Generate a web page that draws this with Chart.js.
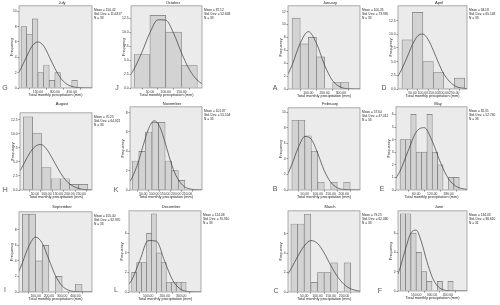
<!DOCTYPE html>
<html>
<head>
<meta charset="utf-8">
<script src="https://cdn.jsdelivr.net/npm/chart.js@4.4.0/dist/chart.umd.min.js"></script>
<style>
  html, body { margin: 0; padding: 0; background: #fff; }
  #page { position: relative; width: 500px; height: 305px; overflow: hidden; }
  canvas { position: absolute; }
  .txt { position: absolute; white-space: nowrap; font-family: Arial, "Liberation Sans", sans-serif; color: #222; transform-origin: 0 0; }
  .letter { position: absolute; width: 6px; text-align: center; font-family: Arial, "Liberation Sans", sans-serif; font-size: 7px; line-height: 8px; color: #555; }
</style>
</head>
<body>
<div id="page"></div>
<script>
// panels in page order: G J A D / H K B E / I L C F
const months = ['July', 'October', 'January', 'April', 'August', 'November', 'February', 'May', 'September', 'December', 'March', 'June'];
const letters = ['G', 'J', 'A', 'D', 'H', 'K', 'B', 'E', 'I', 'L', 'C', 'F'];

// frequency per bin (bins start at 0)
const julyCounts = [8, 7, 9, 2, 3, 1, 2, 0, 0, 1];
const octoberCounts = [6, 13, 10, 4];
const januaryCounts = [11, 7, 8, 5, 0, 1, 1];
const aprilCounts = [9, 14, 5, 3, 0, 2];
const augustCounts = [13, 10, 4, 2, 2, 1, 1];
const novemberCounts = [3, 4, 6, 7, 7, 3, 2, 1];
const februaryCounts = [9, 9, 7, 5, 1, 0, 1, 0, 1];
const mayCounts = [4, 4, 6, 3, 3, 6, 3, 2, 0, 1, 1];
const septemberCounts = [10, 10, 4, 6, 0, 2, 0, 0, 1];
const decemberCounts = [2, 3, 3, 6, 8, 4, 3, 1, 1, 1, 1];
const marchCounts = [7, 7, 8, 1, 2, 2, 3, 0, 3];
const juneCounts = [8, 8, 6, 4, 2, 1, 0, 1, 0, 1];

// fitted normal curve (x in mm, y in frequency)
const julyCurveX = [-18, 0, 50, 100, 150, 200, 250, 300, 350, 400, 450, 500, 550, 630];
const julyCurveY = [2.06, 2.58, 4.1, 5.5, 6.0, 5.5, 4.1, 2.58, 1.32, 0.57, 0.2, 0.06, 0.015, 0];
const octoberCurveX = [-10, 0, 25, 50, 75, 100, 125, 150, 175, 200, 215];
const octoberCurveY = [2.5, 3.4, 6.45, 9.9, 12.2, 12.15, 9.8, 6.3, 3.3, 1.4, 0.75];
const januaryCurveX = [-25, 0, 50, 100, 150, 200, 250, 300, 350, 418];
const januaryCurveY = [2.3, 3.7, 7.1, 8.9, 7.1, 3.7, 1.27, 0.28, 0.04, 0];
const aprilCurveX = [-19, 0, 25, 50, 75, 100, 125, 150, 175, 200, 250, 311];
const aprilCurveY = [2.35, 3.7, 5.85, 8.1, 9.7, 10.05, 9.05, 7.05, 4.75, 2.75, 0.63, 0.04];
const augustCurveX = [-15, 0, 25, 50, 75, 100, 125, 150, 175, 200, 250, 298];
const augustCurveY = [3.43, 4.5, 6.4, 7.7, 8.08, 7.3, 5.65, 3.8, 2.2, 1.1, 0.17, 0.02];
const novemberCurveX = [-10, 0, 25, 50, 75, 100, 125, 150, 175, 200, 250, 318];
const novemberCurveY = [0.9, 1.3, 2.7, 4.6, 6.35, 7.16, 6.57, 4.9, 2.96, 1.47, 0.19, 0];
const februaryCurveX = [-15, 0, 25, 50, 75, 100, 125, 150, 175, 200, 263];
const februaryCurveY = [2.1, 3.3, 5.5, 6.9, 6.55, 4.7, 2.5, 1.0, 0.3, 0.07, 0];
const mayCurveX = [-15, 0, 30, 60, 90, 120, 150, 180, 210, 249];
const mayCurveY = [0.94, 1.5, 3.1, 4.6, 4.95, 3.87, 2.2, 0.9, 0.27, 0.035];
const septemberCurveX = [-25, 0, 50, 100, 150, 200, 250, 300, 350, 400, 525];
const septemberCurveY = [2.65, 3.73, 5.93, 7.05, 6.28, 4.19, 2.09, 0.78, 0.22, 0.05, 0];
const decemberCurveX = [-16, 0, 50, 100, 150, 200, 250, 300, 350, 420];
const decemberCurveY = [0.8, 1.2, 3.23, 5.26, 5.2, 3.14, 1.16, 0.26, 0.036, 0];
const marchCurveX = [-11, 0, 25, 50, 75, 100, 125, 150, 175, 200, 225, 260];
const marchCurveY = [1.85, 2.36, 3.63, 4.74, 5.29, 5.0, 4.03, 2.73, 1.6, 0.79, 0.33, 0.07];
const juneCurveX = [-22, 0, 50, 100, 150, 200, 250, 300, 350, 400, 450, 500, 631];
const juneCurveY = [1.75, 2.47, 4.38, 6.0, 6.3, 5.07, 3.12, 1.48, 0.53, 0.15, 0.03, 0.005, 0];

// axes
const binWidth = [50, 50, 50, 50, 40, 30, 25, 20, 50, 30, 25, 50];
const xTickStep = [150, 50, 100, 50, 50, 50, 50, 60, 100, 100, 50, 150];
const xMin = [-18, -10, -25, -19, -15, -10, -15, -15, -25, -16, -11, -22];
const xMax = [630, 215, 418, 311, 298, 318, 263, 249, 525, 420, 260, 631];
const yMax = [10.7, 14.7, 12.9, 15.2, 13.7, 8.6, 10.6, 6.6, 10.3, 8.3, 8.35, 8.3];
const yTickStep = [2, 2.5, 2, 2.5, 2.5, 2, 2, 1, 2, 2, 2, 2];

// summary boxes
const means = ['150.42', '87.12', '100.35', '94.18', '70.25', '101.87', '57.64', '82.31', '105.40', '124.08', '79.25', '134.03'];
const stdDevs = ['114.817', '52.608', '73.995', '65.148', '64.921', '55.104', '47.012', '52.740', '92.970', '70.910', '62.080', '96.610'];
const nValues = [33, 33, 33, 33, 33, 33, 33, 33, 33, 33, 33, 31];

const allCounts = [julyCounts, octoberCounts, januaryCounts, aprilCounts, augustCounts, novemberCounts,
  februaryCounts, mayCounts, septemberCounts, decemberCounts, marchCounts, juneCounts];
const allCurveX = [julyCurveX, octoberCurveX, januaryCurveX, aprilCurveX, augustCurveX, novemberCurveX,
  februaryCurveX, mayCurveX, septemberCurveX, decemberCurveX, marchCurveX, juneCurveX];
const allCurveY = [julyCurveY, octoberCurveY, januaryCurveY, aprilCurveY, augustCurveY, novemberCurveY,
  februaryCurveY, mayCurveY, septemberCurveY, decemberCurveY, marchCurveY, juneCurveY];

// layout: plot frame [left, top, right, bottom] in page pixels
const frames = [
  [19, 4, 92, 88], [131, 4, 202, 88], [288, 4, 360, 89], [398, 4, 467, 89],
  [20, 111, 92, 190], [130, 105, 202, 190], [288, 106, 360, 190], [396, 105, 467, 190],
  [19, 210, 92, 292], [129, 209, 201, 292], [288, 209, 360, 292], [398, 209, 467, 291]
];
const titleY = [2.5, 2.5, 2.5, 2.5, 104, 104, 104, 104, 207, 207, 207, 207];
// top-left corner of each panel letter box
const letterPos = [
  [2, 84], [114, 84], [272, 84], [381, 84],
  [2, 186], [113, 186], [272, 185], [379, 185],
  [2, 286], [113, 286], [273, 287], [377, 287]
];

const FONT = 'Arial, "Liberation Sans", sans-serif';
const page = document.getElementById('page');

// grey plot background and frame
const framePlugin = {
  id: 'framePlugin',
  beforeDraw(chart) {
    const { ctx, chartArea: a } = chart;
    ctx.save();
    ctx.fillStyle = '#ebebeb';
    ctx.fillRect(a.left, a.top, a.right - a.left, a.bottom - a.top);
    ctx.restore();
  },
  afterDraw(chart) {
    const { ctx, chartArea: a } = chart;
    ctx.save();
    ctx.strokeStyle = '#8a8a8a';
    ctx.lineWidth = 0.7;
    ctx.strokeRect(a.left, a.top, a.right - a.left, a.bottom - a.top);
    ctx.restore();
  }
};

function keepSteps(step) {
  return scale => {
    scale.ticks = scale.ticks.filter(t => Math.abs(t.value / step - Math.round(t.value / step)) < 1e-6);
  };
}

function addText(html, x, y, size, scale, centered) {
  const d = document.createElement('div');
  d.className = 'txt';
  d.innerHTML = html;
  d.style.left = x + 'px';
  d.style.top = y + 'px';
  d.style.fontSize = size + 'px';
  d.style.lineHeight = '1.1';
  d.style.transform = centered ? `scale(${scale}) translate(-50%, -50%)` : `scale(${scale})`;
  page.appendChild(d);
}

months.forEach((month, i) => {
  const [x0, y0, x1, y1] = frames[i];
  const canvas = document.createElement('canvas');
  const w = x1 - x0 + 12;
  const h = y1 - y0 + 12;
  canvas.width = w;
  canvas.height = h;
  canvas.style.left = (x0 - 11) + 'px';
  canvas.style.top = (y0 - 1) + 'px';
  canvas.style.width = w + 'px';
  canvas.style.height = h + 'px';
  page.appendChild(canvas);

  const bw = binWidth[i];
  const bars = allCounts[i].map((c, k) => ({ x: (k + 0.5) * bw, y: c }));
  const curve = allCurveX[i].map((x, k) => ({ x: x, y: allCurveY[i][k] }));
  const ys = yTickStep[i];

  new Chart(canvas.getContext('2d'), {
    type: 'bar',
    data: {
      datasets: [
        {
          type: 'line',
          data: curve,
          borderColor: '#3a3a3a',
          borderWidth: 0.7,
          pointRadius: 0,
          cubicInterpolationMode: 'monotone',
          fill: false,
          order: 1
        },
        {
          type: 'bar',
          data: bars,
          backgroundColor: '#d3d3d3',
          borderColor: '#7a7a7a',
          borderWidth: ctx => (ctx.raw && ctx.raw.y > 0 ? 0.7 : 0),
          barPercentage: 1,
          categoryPercentage: 1,
          order: 2
        }
      ]
    },
    options: {
      responsive: false,
      animation: false,
      devicePixelRatio: 1,
      events: [],
      layout: { padding: { top: 1, right: 1, left: 0, bottom: 0 } },
      plugins: { legend: { display: false }, tooltip: { enabled: false } },
      scales: {
        x: {
          type: 'linear',
          min: xMin[i],
          max: xMax[i],
          offset: false,
          afterBuildTicks: keepSteps(xTickStep[i]),
          afterFit: s => { s.height = 11; },
          grid: { display: true, drawOnChartArea: false, drawTicks: true, tickLength: 1.5, color: '#888' },
          border: { display: false },
          ticks: {
            stepSize: xTickStep[i],
            autoSkip: false,
            maxRotation: 0,
            padding: 0.5,
            color: '#333',
            font: { family: FONT, size: 3.4 },
            callback: v => (v === 0 ? '.00' : v.toFixed(2))
          },
          title: {
            display: true,
            text: 'Total monthly precipitation (mm)',
            color: '#222',
            font: { family: FONT, size: 3.8 },
            padding: { top: 0, bottom: 1.4 }
          }
        },
        y: {
          min: 0,
          max: yMax[i],
          afterBuildTicks: keepSteps(ys),
          afterFit: s => { s.width = 11; },
          grid: { display: true, drawOnChartArea: false, drawTicks: true, tickLength: 1.5, color: '#888' },
          border: { display: false },
          ticks: {
            stepSize: ys,
            autoSkip: false,
            padding: 0.8,
            color: '#333',
            font: { family: FONT, size: 3.4 },
            callback: v => (ys % 1 ? v.toFixed(1) : String(v))
          },
          title: {
            display: true,
            text: 'Frequency',
            color: '#222',
            font: { family: FONT, size: 3.8 },
            padding: { top: 1.5, bottom: 0 }
          }
        }
      }
    },
    plugins: [framePlugin]
  });

  // month title, summary box
  addText(month, (x0 + x1) / 2 + 6, titleY[i], 10, 0.4, true);
  addText('Mean = ' + means[i] + '<br>Std. Dev. = ' + stdDevs[i] + '<br>N = ' + nValues[i], x1 + 1.5, y0 + 5, 8, 0.4, false);

  // panel letter
  const lt = document.createElement('div');
  lt.className = 'letter';
  lt.textContent = letters[i];
  lt.style.left = letterPos[i][0] + 'px';
  lt.style.top = letterPos[i][1] + 'px';
  page.appendChild(lt);
});
</script>
</body>
</html>
